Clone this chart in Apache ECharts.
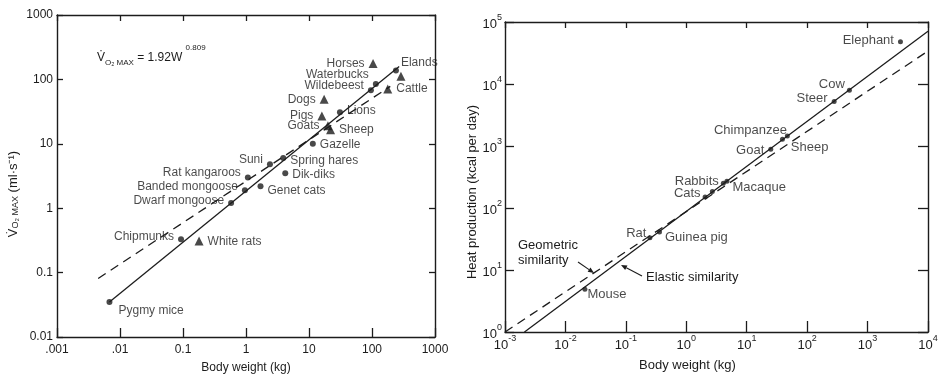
<!DOCTYPE html>
<html>
<head>
<meta charset="utf-8">
<script src="https://cdn.jsdelivr.net/npm/echarts@6/dist/echarts.min.js"></script>
<style>
html,body{margin:0;padding:0;background:#fff;}
#chart{width:943px;height:379px;}
</style>
</head>
<body>
<div id="chart"></div>
<script>
// ---------- DATA: left panel (VO2max vs body weight) ----------
var wildNames  = ['Elands','Waterbucks','Wildebeest','Lions','Gazelle','Spring hares','Suni','Dik-diks','Rat kangaroos','Genet cats','Banded mongoose','Dwarf mongoose','Chipmunks','Pygmy mice'];
var wildWeight = [240, 115, 96, 31, 11.5, 3.9, 2.4, 4.2, 1.07, 1.7, 0.96, 0.58, 0.093, 0.0068];
var wildVO2    = [137, 85, 68, 31, 10, 6.0, 4.8, 3.5, 3.0, 2.2, 1.9, 1.2, 0.33, 0.035];

var domNames  = ['Horses','','Cattle','Dogs','Pigs','Goats','Sheep','White rats'];
var domWeight = [104, 288, 178, 17.4, 16, 20, 22, 0.18];
var domVO2    = [176, 112, 71, 49, 27, 19, 16.5, 0.31];

var leftSolidW = [0.0068, 270];
var leftSolidV = [0.035, 158];
var leftDashW  = [0.0045, 195];
var leftDashV  = [0.081, 78];

var leftXTicks = ['.001','.01','0.1','1','10','100','1000'];
var leftYTicks = ['0.01','0.1','1','10','100','1000'];

// ---------- DATA: right panel (heat production vs body weight) ----------
var heatNames  = ['Elephant','Cow','Steer','Chimpanzee','Sheep','Goat','Rabbits','Macaque','Cats','','Rat','Guinea pig','Mouse'];
var heatWeight = [3500, 500, 280, 39, 47, 25, 4.1, 4.7, 2.05, 2.7, 0.25, 0.36, 0.021];
var heatValue  = [48000, 7900, 5200, 1290, 1450, 890, 250, 270, 151, 185, 33, 41, 4.9];

var elasticW = [0.0021, 10000];
var elasticH = [1, 71000];
var geomW    = [0.001, 10000];
var geomH    = [1, 34000];

var rightXExp = ['-3','-2','-1','0','1','2','3','4'];
var rightYExp = ['0','1','2','3','4','5'];

// ---------- label placement (style only) ----------
var leftLabelPos = {
  'Elands':['right',[-2,-8]], 'Waterbucks':['left',[0,-9]], 'Wildebeest':['left',[0,-4]],
  'Lions':['right',[0,-1]], 'Gazelle':['right',[0,1]], 'Spring hares':['right',[0,3]],
  'Suni':['left',[0,-5]], 'Dik-diks':['right',[0,2]], 'Rat kangaroos':['left',[0,-5]],
  'Genet cats':['right',[0,5]], 'Banded mongoose':['left',[0,-4]], 'Dwarf mongoose':['left',[0,-2]],
  'Chipmunks':['left',[0,-3]], 'Pygmy mice':['right',[2,9]],
  'Horses':['left',[0,0]], 'Cattle':['right',[0,0]], 'Dogs':['left',[0,0]], 'Pigs':['left',[0,0]],
  'Goats':['left',[0,0]], 'Sheep':['right',[0,0]], 'White rats':['right',[0,1]]
};
var rightLabelPos = {
  'Elephant':['left',[0,-1]], 'Cow':['left',[2,-6]], 'Steer':['left',[0,-3]],
  'Chimpanzee':['left',[11,-9]], 'Sheep':['right',[-3,11]], 'Goat':['left',[0,1]],
  'Rabbits':['left',[2,-2]], 'Macaque':['right',[-1,6]], 'Cats':['left',[2,-3]],
  'Rat':['left',[3,-4]], 'Guinea pig':['right',[-1,5]], 'Mouse':['right',[-4,5]]
};

var FONT = 'Liberation Sans';
var INK = '#1c1c1c';

function pts(xs, ys, names, posMap, fs) {
  return xs.map(function (x, i) {
    var n = names ? names[i] : '';
    var p = (posMap && posMap[n]) || ['right',[0,0]];
    return {
      value: [x, ys[i]], name: n,
      label: { show: !!n, position: p[0], offset: p[1], distance: 4, formatter: '{b}',
               color: INK, fontFamily: FONT, fontSize: fs }
    };
  });
}
function linePts(xs, ys) { return xs.map(function (x, i) { return [x, ys[i]]; }); }
function lg(v) { return Math.round(Math.log(v) / Math.LN10); }

var powRich = {
  b: { fontSize: 13, fontFamily: FONT, color: INK, verticalAlign: 'bottom', lineHeight: 18 },
  s: { fontSize: 9, fontFamily: FONT, color: INK, verticalAlign: 'top', lineHeight: 18 }
};

var axisLineStyle = { lineStyle: { color: INK, width: 1.4 } };
function logAxis(opts) {
  var base = {
    type: 'log', logBase: 10, axisLine: axisLineStyle,
    splitLine: { show: false }, minorTick: { show: false },
    axisTick: { show: true, inside: true, length: 7, lineStyle: { color: INK, width: 1.3 } },
    axisLabel: { color: INK, fontFamily: FONT, fontSize: 12 }
  };
  for (var k in opts) base[k] = opts[k];
  return base;
}

var chart = echarts.init(document.getElementById('chart'), null, { renderer: 'canvas' });

var option = {
  backgroundColor: '#ffffff',
  animation: false,
  grid: [
    { left: 57, top: 15, width: 378, height: 326, containLabel: false },
    { left: 505, top: 22, width: 423, height: 310, containLabel: false }
  ],
  xAxis: [
    logAxis({ gridIndex: 0, min: 0.001, max: 1000, position: 'bottom',
      axisTick: { show: true, inside: true, length: 9, lineStyle: { color: INK, width: 1.3 } },
      axisLabel: { color: INK, fontFamily: FONT, fontSize: 12, margin: 7,
        formatter: function (v) { return leftXTicks[lg(v) + 3]; } },
      name: 'Body weight (kg)', nameLocation: 'middle', nameGap: 25,
      nameTextStyle: { color: INK, fontFamily: FONT, fontSize: 12 } }),
    logAxis({ gridIndex: 0, min: 0.001, max: 1000, position: 'top', axisLabel: { show: false },
      axisTick: { show: true, inside: true, length: 6, lineStyle: { color: INK, width: 1.3 } } }),
    logAxis({ gridIndex: 1, min: 0.001, max: 10000, position: 'bottom',
      axisTick: { show: true, inside: true, length: 11, lineStyle: { color: INK, width: 1.3 } },
      axisLabel: { color: INK, fontFamily: FONT, fontSize: 13, margin: 2, rich: powRich,
        formatter: function (v) { return '{b|10}{s|' + rightXExp[lg(v) + 3] + '}'; } },
      name: 'Body weight (kg)', nameLocation: 'middle', nameGap: 27,
      nameTextStyle: { color: INK, fontFamily: FONT, fontSize: 13, padding: [0, 58, 0, 0] } }),
    logAxis({ gridIndex: 1, min: 0.001, max: 10000, position: 'top', axisLabel: { show: false },
      axisTick: { show: true, inside: true, length: 6, lineStyle: { color: INK, width: 1.3 } } })
  ],
  yAxis: [
    logAxis({ gridIndex: 0, min: 0.01, max: 1000, position: 'left',
      axisTick: { show: true, inside: true, length: 6, lineStyle: { color: INK, width: 1.3 } },
      axisLabel: { color: INK, fontFamily: FONT, fontSize: 12, margin: 4,
        formatter: function (v) { return leftYTicks[lg(v) + 2]; } },
      name: '{v|V\u0307}{sub|O\u2082 MAX}{n| (ml\u00B7s\u207B\u00B9)}', nameLocation: 'middle', nameGap: 37,
      nameTextStyle: { color: INK, fontFamily: FONT, fontSize: 13, padding: [0, 36, 0, 0],
        rich: { v: { fontSize: 13, fontFamily: FONT, color: INK },
                sub: { fontSize: 9, fontFamily: FONT, color: INK, verticalAlign: 'bottom', padding: [4,0,0,0] },
                n: { fontSize: 13, fontFamily: FONT, color: INK } } } }),
    logAxis({ gridIndex: 0, min: 0.01, max: 1000, position: 'right', axisLabel: { show: false },
      axisTick: { show: true, inside: true, length: 6, lineStyle: { color: INK, width: 1.3 } } }),
    logAxis({ gridIndex: 1, min: 1, max: 100000, position: 'left',
      axisTick: { show: true, inside: true, length: 9, lineStyle: { color: INK, width: 1.3 } },
      axisLabel: { color: INK, fontFamily: FONT, fontSize: 13, margin: 3, rich: powRich,
        formatter: function (v) { return '{b|10}{s|' + rightYExp[lg(v)] + '}'; } },
      name: 'Heat production (kcal per day)', nameLocation: 'middle', nameGap: 14,
      nameTextStyle: { color: INK, fontFamily: FONT, fontSize: 13, padding: [0, 30, 0, 0] } }),
    logAxis({ gridIndex: 1, min: 1, max: 100000, position: 'right', axisLabel: { show: false },
      axisTick: { show: true, inside: true, length: 10, lineStyle: { color: INK, width: 1.3 } } })
  ],
  series: [
    { type: 'line', xAxisIndex: 0, yAxisIndex: 0, data: linePts(leftSolidW, leftSolidV),
      symbol: 'none', silent: true, lineStyle: { color: INK, width: 1.3 } },
    { type: 'line', xAxisIndex: 0, yAxisIndex: 0, data: linePts(leftDashW, leftDashV),
      symbol: 'none', silent: true, lineStyle: { color: INK, width: 1.3, type: [9, 6] } },
    { type: 'scatter', xAxisIndex: 0, yAxisIndex: 0, symbol: 'circle', symbolSize: 6,
      itemStyle: { color: INK }, data: pts(wildWeight, wildVO2, wildNames, leftLabelPos, 12) },
    { type: 'scatter', xAxisIndex: 0, yAxisIndex: 0, symbol: 'triangle', symbolSize: 9,
      itemStyle: { color: INK }, data: pts(domWeight, domVO2, domNames, leftLabelPos, 12) },

    { type: 'line', xAxisIndex: 2, yAxisIndex: 2, data: linePts(elasticW, elasticH),
      symbol: 'none', silent: true, lineStyle: { color: INK, width: 1.3 } },
    { type: 'line', xAxisIndex: 2, yAxisIndex: 2, data: linePts(geomW, geomH),
      symbol: 'none', silent: true, lineStyle: { color: INK, width: 1.3, type: [9, 6] } },
    { type: 'scatter', xAxisIndex: 2, yAxisIndex: 2, symbol: 'circle', symbolSize: 5,
      itemStyle: { color: INK }, data: pts(heatWeight, heatValue, heatNames, rightLabelPos, 13) }
  ]
};
chart.setOption(option);

// ---------- annotations ----------
function arrow(x1, y1, x2, y2) {
  var dx = x2 - x1, dy = y2 - y1, L = Math.sqrt(dx * dx + dy * dy);
  var ux = dx / L, uy = dy / L, bx = x2 - ux * 6, by = y2 - uy * 6;
  return [
    { type: 'line', shape: { x1: x1, y1: y1, x2: bx, y2: by }, style: { stroke: INK, lineWidth: 1.1 } },
    { type: 'polygon', shape: { points: [[x2, y2], [bx - uy * 2.5, by + ux * 2.5], [bx + uy * 2.5, by - ux * 2.5]] },
      style: { fill: INK } }
  ];
}
var g = [
  { type: 'text', left: 97, top: 44, style: {
      text: '{v|V\u0307}{sub|O\u2082 MAX}{n| = 1.92W }{sup|0.809}',
      rich: { v: { fontSize: 12, fontFamily: FONT, fill: INK, verticalAlign: 'bottom', lineHeight: 20 },
              sub: { fontSize: 8, fontFamily: FONT, fill: INK, verticalAlign: 'bottom', lineHeight: 20, padding: [0,0,-3,0] },
              n: { fontSize: 12, fontFamily: FONT, fill: INK, verticalAlign: 'bottom', lineHeight: 20 },
              sup: { fontSize: 8, fontFamily: FONT, fill: INK, verticalAlign: 'top', lineHeight: 20 } } } },
  { type: 'text', left: 518, top: 238, style: { text: 'Geometric\nsimilarity', fontSize: 13, lineHeight: 15, fontFamily: FONT, fill: INK } },
  { type: 'text', left: 646, top: 271, style: { text: 'Elastic similarity', fontSize: 13, fontFamily: FONT, fill: INK } }
].concat(arrow(578, 262, 594, 273)).concat(arrow(642, 276, 621, 265));
chart.setOption({ graphic: g });
</script>
</body>
</html>
